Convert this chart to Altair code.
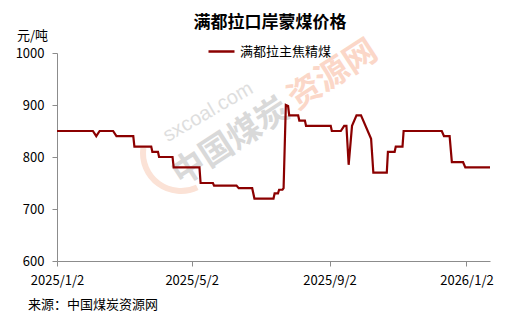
import altair as alt
import pandas as pd

# ---- data ----
dates = ["2025-01-02", "2025-02-03", "2025-02-06", "2025-02-09", "2025-02-21", "2025-02-24",
         "2025-03-11", "2025-03-12", "2025-03-27", "2025-03-28", "2025-04-02", "2025-04-03",
         "2025-04-15", "2025-04-16", "2025-05-09", "2025-05-10", "2025-05-21", "2025-05-22",
         "2025-06-11", "2025-06-13", "2025-06-25", "2025-06-27", "2025-07-14", "2025-07-15",
         "2025-07-18", "2025-07-19", "2025-07-22", "2025-07-23", "2025-07-25", "2025-07-27",
         "2025-07-28", "2025-08-05", "2025-08-06", "2025-08-11", "2025-08-12", "2025-09-03",
         "2025-09-04", "2025-09-12", "2025-09-15", "2025-09-17", "2025-09-19", "2025-09-22",
         "2025-09-26", "2025-09-30", "2025-10-09", "2025-10-11", "2025-10-23", "2025-10-24",
         "2025-10-30", "2025-10-31", "2025-11-06", "2025-11-07", "2025-12-11", "2025-12-13",
         "2025-12-18", "2025-12-20", "2025-12-30", "2026-01-01", "2026-01-23"]
prices = [850, 850, 840, 850, 850, 840,
          840, 820, 820, 810, 810, 800,
          800, 780, 780, 750, 750, 745,
          745, 740, 740, 720, 720, 730,
          730, 737, 737, 740, 900, 898,
          880, 880, 870, 870, 860, 860,
          850, 850, 860, 860, 785, 860,
          880, 880, 835, 770, 770, 810,
          810, 820, 820, 850, 850, 840,
          840, 790, 790, 780, 780]
series_name = "满都拉主焦精煤"
tick_dates = ["2025-01-02", "2025-05-02", "2025-09-02", "2026-01-02"]
y_ticks = [600, 700, 800, 900, 1000]

title_text = "满都拉口岸蒙煤价格"
unit_text = "元/吨"
source_text = "来源：中国煤炭资源网"

FONT = "Noto Sans CJK SC"
LINE_COLOR = "#8B0000"
AXIS_COLOR = "#8c8c8c"

df = pd.DataFrame({"date": dates, "price": prices, "series": [series_name] * len(dates)})


def dt(s):
    y, m, d = (int(v) for v in s.split("-"))
    return alt.DateTime(year=y, month=m, date=d, utc=True)


x_enc = alt.X(
    "date:T",
    scale=alt.Scale(type="utc", domain=[dt("2025-01-02"), dt("2026-01-23")]),
    axis=alt.Axis(
        values=[dt(s) for s in tick_dates],
        labelExpr="utcFormat(datum.value, '%Y/%-m/%-d')",
        title=None,
        grid=False,
        domainColor=AXIS_COLOR,
        tickColor=AXIS_COLOR,
        tickSize=5,
        labelPadding=8,
        labelFlush=False,
        labelFontSize=13,
        labelFont=FONT,
        labelColor="#000000",
    ),
)
y_enc = alt.Y(
    "price:Q",
    scale=alt.Scale(domain=[600, 1000], nice=False, zero=False),
    axis=alt.Axis(
        values=y_ticks,
        format="d",
        title=unit_text,
        titleAngle=0,
        titleX=-25,
        titleY=-18,
        titleAlign="center",
        titleBaseline="middle",
        titleFont=FONT,
        titleFontSize=13,
        titleFontWeight="normal",
        titleColor="#000000",
        grid=False,
        domainColor=AXIS_COLOR,
        tickColor=AXIS_COLOR,
        tickSize=5,
        labelPadding=8,
        labelFontSize=13,
        labelFont=FONT,
        labelColor="#000000",
    ),
)

base = alt.Chart(df)

# faint watermark (decoration)
wm_df = pd.DataFrame({"k": [0]})
wm_arc = alt.Chart(wm_df).mark_arc(
    innerRadius=35, outerRadius=41, theta=2.7, theta2=4.85, color="#fbe2d6"
).encode(x=alt.value(124), y=alt.value(100))
wm1 = alt.Chart(wm_df).mark_text(
    text="sxcoal.com", angle=330, fontSize=20, font="Liberation Sans", color="#dedede"
).encode(x=alt.value(151), y=alt.value(59))
wm2 = alt.Chart(wm_df).mark_text(
    text="中国煤炭", angle=327, fontSize=33, font=FONT, fontWeight="bold", color="#d9d9d9"
).encode(x=alt.value(174), y=alt.value(89))
wm3 = alt.Chart(wm_df).mark_text(
    text="资源网", angle=327, fontSize=33, font=FONT, fontWeight="bold", color="#fbd7c8"
).encode(x=alt.value(276), y=alt.value(22))

line = base.mark_line(strokeWidth=2.2, interpolate="linear").encode(
    x=x_enc,
    y=y_enc,
    color=alt.Color(
        "series:N",
        scale=alt.Scale(domain=[series_name], range=[LINE_COLOR]),
        legend=alt.Legend(
            title=None,
            orient="none",
            legendX=150,
            legendY=-16,
            symbolType="stroke",
            symbolSize=676,
            symbolStrokeWidth=2.5,
            labelFont=FONT,
            labelFontSize=13,
            labelColor="#000000",
            labelOffset=4,
            padding=0,
        ),
    ),
)

title_mark = alt.Chart(wm_df).mark_text(
    text=title_text, fontSize=17, font=FONT, fontWeight="bold", color="#000000"
).encode(x=alt.value(213), y=alt.value(-30))
source_mark = alt.Chart(wm_df).mark_text(
    text=source_text, fontSize=13, font=FONT, color="#000000", align="left"
).encode(x=alt.value(-29), y=alt.value(252))

chart = alt.layer(wm_arc, wm1, wm2, wm3, line, title_mark, source_mark).properties(
    width=433,
    height=208,
    autosize=alt.AutoSizeParams(type="none"),
    padding={"left": 57, "top": 53, "right": 28, "bottom": 61},
    background="#ffffff",
).configure_view(stroke=None)

chart.save("out.html", embed_options={"renderer": "svg", "actions": False})
